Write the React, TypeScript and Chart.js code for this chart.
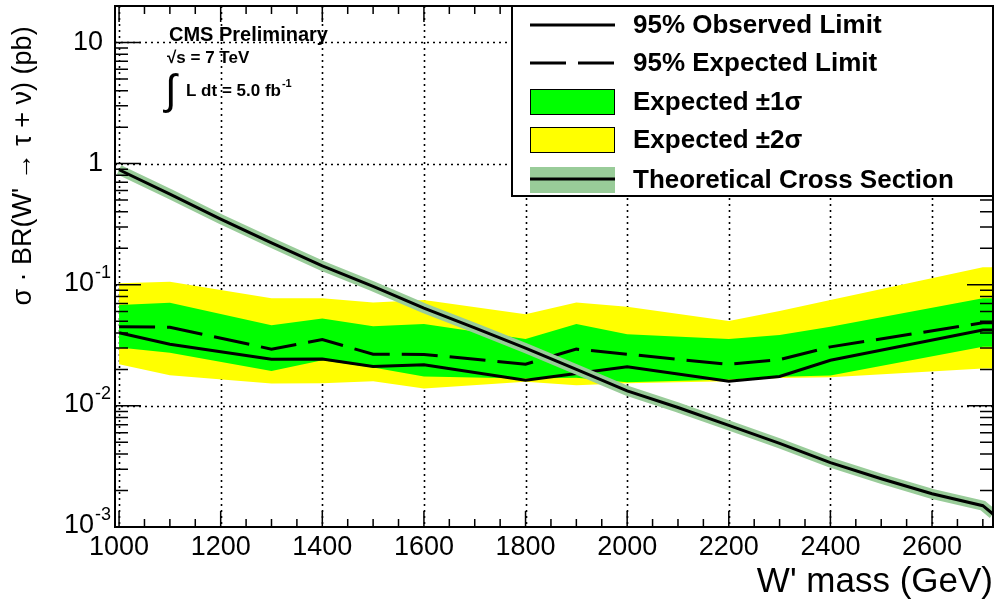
import { useEffect, useRef } from "react";
import { Chart, registerables } from "chart.js";

Chart.register(...registerables);

// W' mass points (GeV) of the limit scan
const massPoints = [1000, 1100, 1300, 1400, 1500, 1600, 1800, 1900, 2000, 2200, 2300, 2400, 2700, 2720];
// 95% CL limits on sigma x BR (pb)
const observedLimit = [0.0401, 0.0323, 0.0243, 0.0244, 0.0211, 0.0218, 0.0163, 0.0185, 0.021, 0.016, 0.0175, 0.0238, 0.0422, 0.0422];
const expectedLimit = [0.0449, 0.0446, 0.0294, 0.0353, 0.0267, 0.0266, 0.0221, 0.0294, 0.0267, 0.022, 0.0241, 0.0307, 0.0485, 0.0485];
const oneSigmaUp = [0.068, 0.071, 0.0464, 0.0527, 0.0455, 0.0473, 0.0356, 0.0473, 0.0391, 0.0356, 0.0384, 0.0449, 0.0773, 0.0773];
const oneSigmaDown = [0.0303, 0.0274, 0.0194, 0.0238, 0.0207, 0.0175, 0.0168, 0.0171, 0.0157, 0.0165, 0.0174, 0.0178, 0.0307, 0.0307];
const twoSigmaUp = [0.1028, 0.106, 0.0773, 0.0773, 0.0715, 0.0748, 0.057, 0.0715, 0.0658, 0.0501, 0.0607, 0.0748, 0.1394, 0.1394];
const twoSigmaDown = [0.0221, 0.0179, 0.0153, 0.0154, 0.016, 0.0139, 0.0158, 0.0148, 0.0154, 0.016, 0.017, 0.0172, 0.0203, 0.0203];

// Theoretical SSM W' -> tau nu cross section (pb)
const theoryMass = [1000, 1100, 1200, 1300, 1400, 1500, 1600, 1700, 1800, 1900, 2000, 2100, 2200, 2300, 2400, 2500, 2600, 2700, 2720];
const theoryXsec = [0.89, 0.56, 0.348, 0.222, 0.143, 0.097, 0.064, 0.044, 0.03, 0.02, 0.0133, 0.0097, 0.0069, 0.0049, 0.0034, 0.0025, 0.00188, 0.0015, 0.00128];

// Axis labelling
const xTickValues = [1000, 1200, 1400, 1600, 1800, 2000, 2200, 2400, 2600];
const yTickValues = [10, 1, 0.1, 0.01, 0.001];
const yTickLabels: [string, string][] = [["10", ""], ["1", ""], ["10", "-1"], ["10", "-2"], ["10", "-3"]];

const legendEntries = [
  "95% Observed Limit",
  "95% Expected Limit",
  "Expected \u00b11\u03c3",
  "Expected \u00b12\u03c3",
  "Theoretical Cross Section",
];

const FONT = "'Liberation Sans', Arial, Helvetica, sans-serif";
const YELLOW = "#ffff00";
const GREEN = "#00ff00";
const THEORY_BAND = "#99cc99";

const pts = (xs: number[], ys: number[]) => xs.map((x, i) => ({ x, y: ys[i] }));

const framePlugin = {
  id: "rootFrame",
  beforeDatasetsDraw(chart: any) {
    const { ctx, chartArea: a, scales } = chart;
    const xs = scales.x;
    const ys = scales.y;
    ctx.save();
    ctx.strokeStyle = "#000";
    ctx.lineWidth = 1.6;
    ctx.setLineDash([2, 4]);
    for (const v of xTickValues) {
      const px = Math.round(xs.getPixelForValue(v)) + 0.5;
      ctx.beginPath();
      ctx.moveTo(px, a.top);
      ctx.lineTo(px, a.bottom);
      ctx.stroke();
    }
    for (const v of yTickValues.slice(0, 4)) {
      const py = Math.round(ys.getPixelForValue(v)) + 0.5;
      ctx.beginPath();
      ctx.moveTo(a.left, py);
      ctx.lineTo(a.right, py);
      ctx.stroke();
    }
    ctx.restore();
  },
  afterDatasetsDraw(chart: any) {
    const { ctx, chartArea: a, scales } = chart;
    const xs = scales.x;
    const ys = scales.y;
    ctx.save();
    ctx.strokeStyle = "#000";
    ctx.fillStyle = "#000";
    ctx.setLineDash([]);

    // tick marks on all four sides
    ctx.lineWidth = 1.5;
    ctx.beginPath();
    for (let m = 1000; m <= 2720; m += 50) {
      const px = xs.getPixelForValue(m);
      const len = m % 200 === 0 ? 16 : 8;
      ctx.moveTo(px, a.bottom);
      ctx.lineTo(px, a.bottom - len);
      ctx.moveTo(px, a.top);
      ctx.lineTo(px, a.top + len);
    }
    for (let e = -3; e <= 1; e++) {
      for (let k = 1; k <= 9; k++) {
        const v = k * Math.pow(10, e);
        if (v < 0.001 || v > 20) continue;
        const py = ys.getPixelForValue(v);
        const len = k === 1 ? 26 : 13;
        ctx.moveTo(a.left, py);
        ctx.lineTo(a.left + len, py);
        ctx.moveTo(a.right, py);
        ctx.lineTo(a.right - len, py);
      }
    }
    ctx.stroke();

    // frame
    ctx.lineWidth = 2;
    ctx.strokeRect(a.left, a.top, a.right - a.left, a.bottom - a.top);

    // x tick labels
    ctx.font = `27px ${FONT}`;
    ctx.textAlign = "center";
    ctx.textBaseline = "middle";
    for (const v of xTickValues) {
      ctx.fillText(String(v), xs.getPixelForValue(v), a.bottom + 21);
    }

    // y tick labels
    yTickValues.forEach((v, i) => {
      const py = ys.getPixelForValue(v);
      const [base, exp] = yTickLabels[i];
      ctx.textBaseline = "middle";
      if (exp) {
        ctx.font = `27px ${FONT}`;
        ctx.textAlign = "right";
        ctx.fillText(base, 94, py - 1);
        ctx.font = `18px ${FONT}`;
        ctx.textAlign = "left";
        ctx.fillText(exp, 95, py - 12);
      } else {
        ctx.font = `27px ${FONT}`;
        ctx.textAlign = "right";
        ctx.fillText(base, 103, py);
      }
    });

    // axis titles
    ctx.font = `35px ${FONT}`;
    ctx.textAlign = "right";
    ctx.textBaseline = "alphabetic";
    ctx.fillText("W' mass (GeV)", a.right, 592);

    ctx.save();
    ctx.translate(24, 166);
    ctx.rotate(-Math.PI / 2);
    ctx.font = `27px ${FONT}`;
    ctx.textAlign = "center";
    ctx.textBaseline = "middle";
    ctx.fillText("\u03c3 \u00b7 BR(W' \u2192 \u03c4 + \u03bd) (pb)", 0, 0);
    ctx.restore();

    // experiment label
    ctx.textAlign = "left";
    ctx.textBaseline = "alphabetic";
    ctx.font = `bold 20px ${FONT}`;
    ctx.fillText("CMS Preliminary", 169, 41);
    ctx.font = `bold 17px ${FONT}`;
    ctx.textBaseline = "middle";
    ctx.fillText("\u221as = 7 TeV", 167, 58);
    ctx.font = `42px ${FONT}`;
    ctx.fillText("\u222b", 165, 92);
    ctx.font = `bold 17px ${FONT}`;
    ctx.fillText("L dt = 5.0 fb", 186, 91);
    const w = ctx.measureText("L dt = 5.0 fb").width;
    ctx.font = `bold 11px ${FONT}`;
    ctx.fillText("-1", 186 + w + 1, 84);
    ctx.restore();
  },
  afterDraw(chart: any) {
    const { ctx } = chart;
    ctx.save();
    const L = 512, T = 6, R = 993, B = 196;
    ctx.fillStyle = "#fff";
    ctx.fillRect(L, T, R - L, B - T);
    ctx.strokeStyle = "#000";
    ctx.lineWidth = 2;
    ctx.strokeRect(L, T, R - L, B - T);

    const rows = [25, 63, 102, 140, 180];
    const sx0 = 530, sx1 = 615;
    ctx.lineWidth = 3;
    // observed
    ctx.beginPath();
    ctx.moveTo(sx0, rows[0]);
    ctx.lineTo(sx1, rows[0]);
    ctx.stroke();
    // expected
    ctx.setLineDash([36, 12]);
    ctx.beginPath();
    ctx.moveTo(sx0, rows[1]);
    ctx.lineTo(sx1, rows[1]);
    ctx.stroke();
    ctx.setLineDash([]);
    // bands
    ctx.lineWidth = 1;
    ctx.fillStyle = GREEN;
    ctx.fillRect(sx0, rows[2] - 13, sx1 - sx0, 26);
    ctx.strokeRect(sx0 + 0.5, rows[2] - 12.5, sx1 - sx0 - 1, 25);
    ctx.fillStyle = YELLOW;
    ctx.fillRect(sx0, rows[3] - 13, sx1 - sx0, 26);
    ctx.strokeRect(sx0 + 0.5, rows[3] - 12.5, sx1 - sx0 - 1, 25);
    // theory
    ctx.fillStyle = THEORY_BAND;
    ctx.fillRect(sx0, rows[4] - 13, sx1 - sx0, 26);
    ctx.lineWidth = 3;
    ctx.beginPath();
    ctx.moveTo(sx0, rows[4] - 1);
    ctx.lineTo(sx1, rows[4] - 1);
    ctx.stroke();

    ctx.fillStyle = "#000";
    ctx.font = `bold 26px ${FONT}`;
    ctx.textAlign = "left";
    ctx.textBaseline = "middle";
    legendEntries.forEach((t, i) => ctx.fillText(t, 633, rows[i] + 1));
    ctx.restore();
  },
};

export default function App() {
  const ref = useRef<HTMLCanvasElement | null>(null);

  useEffect(() => {
    document.body.style.margin = "0";
    const canvas = ref.current;
    if (!canvas) return;
    const chart = new Chart(canvas, {
      type: "line",
      data: {
        datasets: [
          {
            label: "Expected +2 sigma",
            data: pts(massPoints, twoSigmaUp),
            borderWidth: 0,
            backgroundColor: YELLOW,
            fill: "+1",
            order: 6,
            clip: 0,
          },
          {
            label: "Expected -2 sigma",
            data: pts(massPoints, twoSigmaDown),
            borderWidth: 0,
            fill: false,
            order: 6,
            clip: 0,
          },
          {
            label: "Expected +1 sigma",
            data: pts(massPoints, oneSigmaUp),
            borderWidth: 0,
            backgroundColor: GREEN,
            fill: "+1",
            order: 5,
            clip: 0,
          },
          {
            label: "Expected -1 sigma",
            data: pts(massPoints, oneSigmaDown),
            borderWidth: 0,
            fill: false,
            order: 5,
            clip: 0,
          },
          {
            label: "95% Expected Limit",
            data: pts(massPoints, expectedLimit),
            borderColor: "#000",
            borderWidth: 3,
            borderDash: [36, 12],
            fill: false,
            order: 4,
            clip: 0,
          },
          {
            label: "95% Observed Limit",
            data: pts(massPoints, observedLimit),
            borderColor: "#000",
            borderWidth: 3,
            fill: false,
            order: 3,
            clip: 0,
          },
          {
            label: "Theory band",
            data: pts(theoryMass, theoryXsec),
            borderColor: THEORY_BAND,
            borderWidth: 10,
            fill: false,
            order: 2,
            clip: 0,
          },
          {
            label: "Theoretical Cross Section",
            data: pts(theoryMass, theoryXsec),
            borderColor: "#000",
            borderWidth: 3,
            fill: false,
            order: 1,
            clip: 0,
          },
        ],
      },
      options: {
        responsive: false,
        animation: false,
        devicePixelRatio: 1,
        layout: { padding: { left: 115, top: 6, right: 3, bottom: 74 } },
        elements: { point: { radius: 0, hoverRadius: 0 }, line: { tension: 0 } },
        plugins: { legend: { display: false }, tooltip: { enabled: false } },
        scales: {
          x: { type: "linear", min: 992, max: 2720, display: false },
          y: { type: "logarithmic", min: 0.001, max: 20, display: false },
        },
      },
      plugins: [framePlugin],
    });
    return () => chart.destroy();
  }, []);

  return (
    <div style={{ width: 996, height: 601, background: "#fff" }}>
      <canvas ref={ref} width={996} height={601} />
    </div>
  );
}
